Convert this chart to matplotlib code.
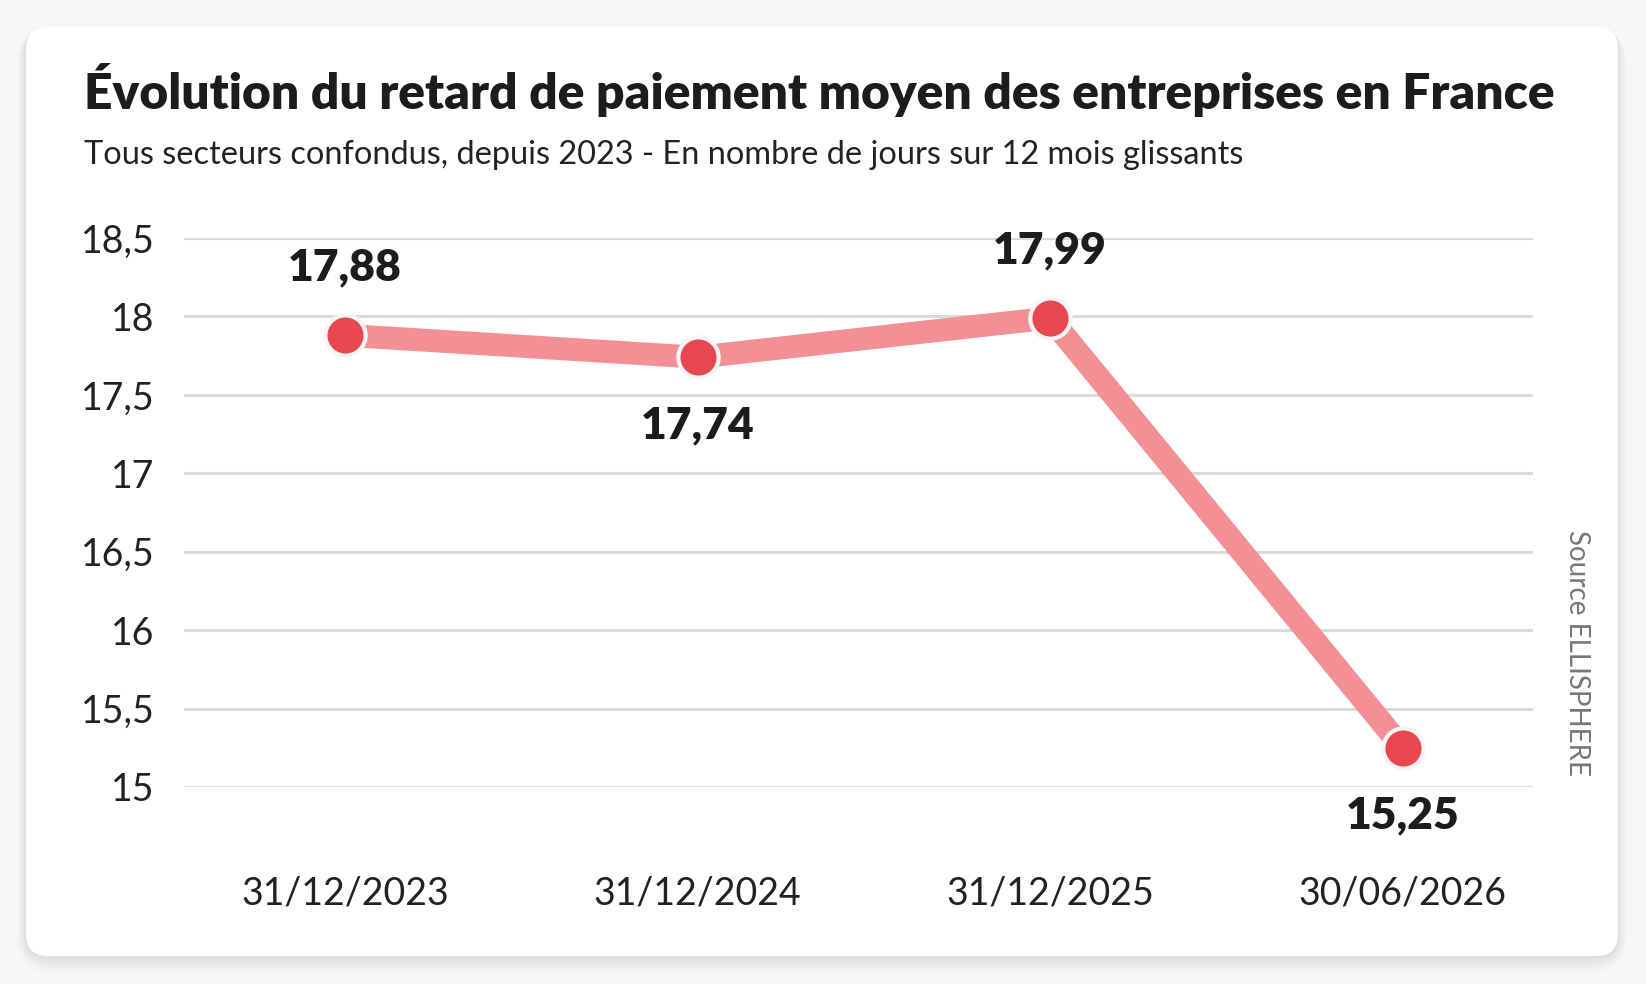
import matplotlib.pyplot as plt
from matplotlib.patches import FancyBboxPatch

plt.rcParams['font.family'] = ['Lato', 'DejaVu Sans']

dates = ['31/12/2023', '31/12/2024', '31/12/2025', '30/06/2026']
delay_days = [17.88, 17.74, 17.99, 15.25]
value_labels = ['17,88', '17,74', '17,99', '15,25']
label_side = [1, -1, 1, -1]  # 1 = above, -1 = below
y_ticks = [15, 15.5, 16, 16.5, 17, 17.5, 18, 18.5]
y_tick_labels = ['15', '15,5', '16', '16,5', '17', '17,5', '18', '18,5']

title = 'Évolution du retard de paiement moyen des entreprises en France'
subtitle = 'Tous secteurs confondus, depuis 2023 - En nombre de jours sur 12 mois glissants'
source = 'Source ELLISPHERE'

W, H = 1646, 984
fig = plt.figure(figsize=(W / 100, H / 100), dpi=100)
fig.patch.set_facecolor('#f7f7f7')

# card with soft shadow (pixel coords)
x0, y0, x1, y1 = 26, H - 956, 1618, H - 27
for i, a in enumerate([0.02, 0.02, 0.015, 0.015, 0.012, 0.012]):
    g = 3 + i * 3
    fig.patches.append(FancyBboxPatch((x0 - g / 2, y0 - g), x1 - x0 + g, y1 - y0 + g,
                                      boxstyle='round,pad=0,rounding_size=%d' % (22 + g),
                                      transform=None, facecolor='#000000', alpha=a,
                                      edgecolor='none', zorder=0))
fig.patches.append(FancyBboxPatch((x0, y0), x1 - x0, y1 - y0,
                                  boxstyle='round,pad=0,rounding_size=22',
                                  transform=None, facecolor='white', edgecolor='none', zorder=1))

ax = fig.add_axes([184 / W, (H - 787) / H, (1533 - 184) / W, (787 - 238) / H])
ax.set_facecolor('none')
ax.set_zorder(2)

x = list(range(len(dates)))
ax.plot(x, delay_days, color='#f29096', lw=16.5, solid_capstyle='round', zorder=3)
ax.plot(x, delay_days, ls='none', marker='o', ms=29, mfc='#e8474f', mec='#f5f5f5',
        mew=3, zorder=4, clip_on=False)

for xi, v, lab, s in zip(x, delay_days, value_labels, label_side):
    ax.annotate(lab, (xi, v), xytext=(0, 49 * s), textcoords='offset points',
                ha='center', va='center', fontsize=32, fontweight='heavy',
                color='#1c1c1c', zorder=5)

ax.set_xlim(-0.457, 3.37)
ax.set_ylim(15, 18.5)
ax.set_yticks(y_ticks)
ax.set_yticklabels(y_tick_labels)
ax.set_xticks(x)
ax.set_xticklabels(dates)
ax.tick_params(axis='y', length=0, pad=21, labelsize=27, labelcolor='#222222')
ax.tick_params(axis='x', length=0, pad=64, labelsize=27, labelcolor='#222222')
ax.grid(axis='y', color='#dadada', lw=2.2)
ax.grid(axis='x', visible=False)
for sp in ax.spines.values():
    sp.set_visible(False)

fig.text(84 / W, 1 - 90 / H, title, ha='left', va='center', fontsize=35.8,
         fontweight='heavy', color='#1c1c1c', zorder=3)
fig.text(84 / W, 1 - 155 / H, subtitle, ha='left', va='center', fontsize=23.4,
         color='#222222', zorder=3)
fig.text(1577 / W, 1 - 653 / H, source, ha='center', va='center', rotation=-90,
         fontsize=20, color='#777777', zorder=3)

fig.savefig('out.png', dpi=100, facecolor=fig.get_facecolor())
